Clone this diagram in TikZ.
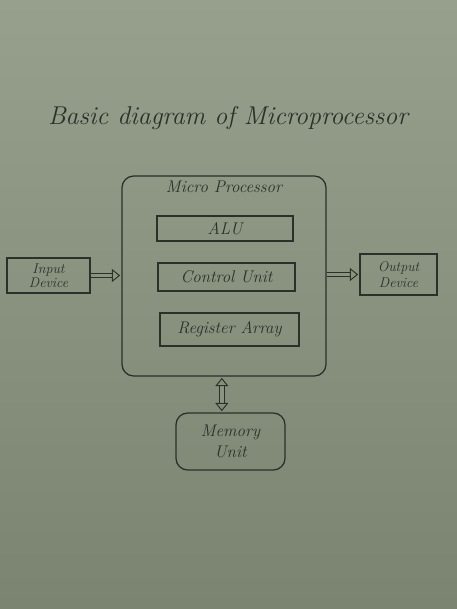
\documentclass[tikz,border=0pt]{standalone}
\usepackage{xcolor}
\usetikzlibrary{arrows.meta}
\definecolor{paper}{RGB}{138,149,128}
\definecolor{papertop}{RGB}{150,160,140}
\definecolor{paperbot}{RGB}{122,132,112}
\definecolor{ink}{RGB}{42,48,42}
\tikzset{
  unit/.style={draw=ink, line width=1.1pt, text=ink, font=\itshape\Large, align=center, inner sep=2pt},
  flow/.style={draw=ink, line width=0.8pt, double=paper, double distance=3.2pt, shorten >=1pt},
  tip/.tip={Triangle[open, length=7pt, width=11pt]}
}
\begin{document}
\begin{tikzpicture}[x=0.03cm, y=-0.03cm]
\shade[top color=papertop, bottom color=paperbot] (0,0) rectangle (457,609);
\useasboundingbox (0,0) rectangle (457,609);
\node[text=ink, font=\itshape\fontsize{22}{26}\selectfont] (title) at (228,118) {Basic diagram of Microprocessor};
\node[unit, rounded corners=10pt, minimum width=6.12cm, minimum height=6cm] (mp) at (224,276) {};
\node[text=ink, font=\itshape\Large, below=1pt] (mplabel) at (mp.north) {Micro Processor};
\node[unit, minimum width=4.08cm, minimum height=0.75cm] (alu) at (225,228.5) {ALU};
\node[unit, minimum width=4.11cm, minimum height=0.84cm] (cu) at (226.5,277) {Control Unit};
\node[unit, minimum width=4.17cm, minimum height=0.99cm] (ra) at (229.5,329.5) {Register Array};
\node[unit, minimum width=2.49cm, minimum height=1.05cm, font=\itshape\large] (in) at (48.5,275.5) {Input\\[-2pt]Device};
\node[unit, minimum width=2.31cm, minimum height=1.23cm, font=\itshape\large] (out) at (398.5,274.5) {Output\\Device};
\node[unit, rounded corners=10pt, minimum width=3.27cm, minimum height=1.71cm] (mem) at (230.5,441.5) {Memory\\Unit};
\draw[flow, -tip] (in.east) -- (in.east -| mp.west);
\draw[flow, -tip] (out.west -| mp.east) -- (out.west);
\draw[flow, shorten <=1pt, tip-tip] ([xshift=-0.26cm]mp.south -| mem.north) -- ([xshift=-0.26cm]mem.north);
\end{tikzpicture}
\end{document}
